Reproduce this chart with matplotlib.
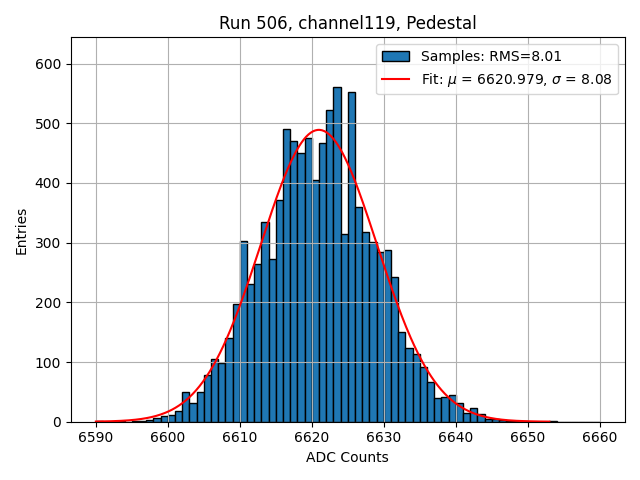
import numpy as np
import matplotlib
matplotlib.use('Agg')
import matplotlib.pyplot as plt

# Histogram data (1 ADC count per bin)
bin_start = 6590
bin_stop = 6660
counts = [
    1, 0, 0, 1, 0, 1, 2, 3, 6, 10,          # 6590-6599
    11, 18, 49, 32, 49, 78, 105, 99, 140, 198,  # 6600-6609
    303, 230, 265, 335, 273, 371, 491, 470, 450, 476,  # 6610-6619
    405, 467, 523, 560, 314, 553, 359, 318, 301, 285,  # 6620-6629
    288, 243, 150, 123, 113, 91, 66, 39, 42, 45,  # 6630-6639
    31, 14, 23, 13, 5, 5, 3, 2, 1, 1,       # 6640-6649
    0, 0, 0, 1, 0, 0, 0, 0, 0, 0,           # 6650-6659
]

fit_mu = 6620.979
fit_sigma = 8.08
fit_amp = 489
fit_lo, fit_hi = 6590, 6653
rms = 8.01

edges = np.arange(bin_start, bin_stop + 1)
left = edges[:-1]

fig, ax = plt.subplots(figsize=(6.4, 4.8), dpi=100)

ax.hist(left, bins=edges, weights=counts, color='#1f77b4', edgecolor='black',
        label=f'Samples: RMS={rms:.2f}')

fx = np.linspace(fit_lo, fit_hi, 400)
fy = fit_amp * np.exp(-0.5 * ((fx - fit_mu) / fit_sigma) ** 2)
ax.plot(fx, fy, color='red', linewidth=1.5,
        label=rf'Fit: $\mu$ = {fit_mu:.3f}, $\sigma$ = {fit_sigma:.2f}')

ax.set_ylim(0, max(counts) * 1.15)
ax.set_title('Run 506, channel119, Pedestal')
ax.set_xlabel('ADC Counts')
ax.set_ylabel('Entries')
ax.grid(True)
ax.legend(loc='upper right')

plt.tight_layout()
plt.savefig('out.png', dpi=100)
plt.close()
